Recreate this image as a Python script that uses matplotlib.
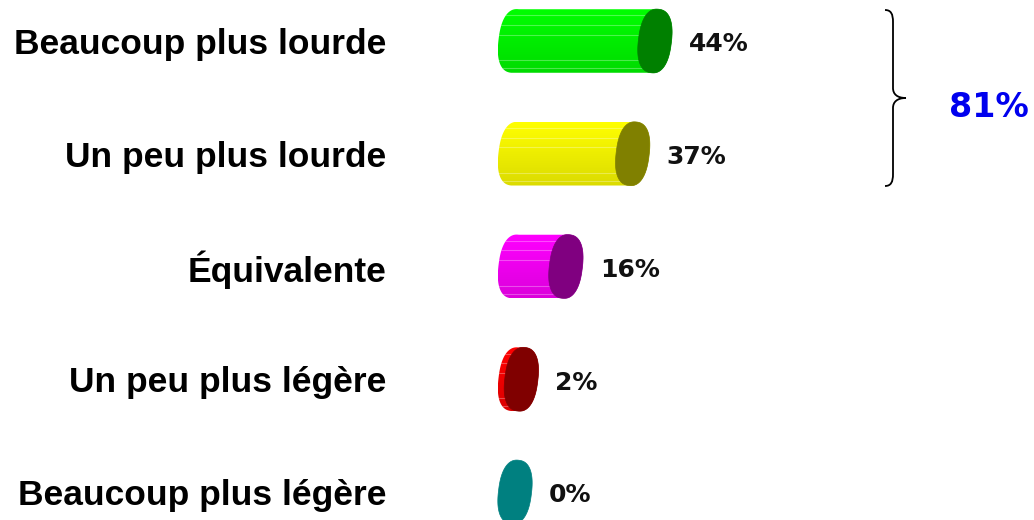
import numpy as np
import matplotlib
matplotlib.use("Agg")
import matplotlib.pyplot as plt
from matplotlib.patches import Polygon, PathPatch
from matplotlib.path import Path

categories = ["Beaucoup plus lourde", "Un peu plus lourde", "Équivalente",
              "Un peu plus légère", "Beaucoup plus légère"]
values = [44, 37, 16, 2, 0]
body_colors = ["#00ff00", "#ffff00", "#ff00ff", "#ff0000", "#008080"]
cap_colors = ["#008000", "#808000", "#800080", "#800000", "#008080"]
total_label = "81%"

W, H = 1034, 520
PX_PCT = 3.18      # pixels per percent
X0 = 515           # pixel x of value 0
ROW0 = 41          # pixel y of first row
ROW = 112.75       # pixels between rows

fig = plt.figure(figsize=(W / 100, H / 100), dpi=100)
ax = fig.add_axes([0, 0, 1, 1])
ax.set_xlim(-X0 / PX_PCT, (W - X0) / PX_PCT)
ax.set_ylim((H - ROW0) / ROW, -ROW0 / ROW)
ax.axis("off")

def px_x(p):
    return (p - X0) / PX_PCT

def px_y(p):
    return (p - ROW0) / ROW

# end cap: squarish ellipse in pixels, slightly tilted
a, b, th, n = 16.5, 32.0, np.radians(7), 2.4

def ellipse_pts(t):
    c, s = np.cos(t), np.sin(t)
    ux = a * np.sign(c) * np.abs(c) ** (2 / n)
    uy = b * np.sign(s) * np.abs(s) ** (2 / n)
    ex = ux * np.cos(th) - uy * np.sin(th)
    ey = ux * np.sin(th) + uy * np.cos(th)
    return ex / PX_PCT, ey / ROW

for i, (v, bc, cc) in enumerate(zip(values, body_colors, cap_colors)):
    y = i
    if v > 0:
        tl = np.linspace(np.pi / 2, 3 * np.pi / 2, 60)
        tr = np.linspace(-np.pi / 2, np.pi / 2, 60)
        lx, ly = ellipse_pts(tl)
        rx, ry = ellipse_pts(tr)
        xs = np.concatenate([lx, rx + v])
        ys = np.concatenate([ly, ry]) + y
        body = Polygon(np.column_stack([xs, ys]), closed=True,
                       facecolor="none", edgecolor="none")
        ax.add_patch(body)
        rgb = np.array(matplotlib.colors.to_rgb(bc))
        shade = np.linspace(1.0, 0.86, 64)[:, None] * rgb[None, :]
        img = np.repeat(shade[:, None, :], 2, axis=1)
        im = ax.imshow(img, extent=(lx.min(), v + rx.max(), y + b / ROW, y - b / ROW),
                       aspect="auto", interpolation="bilinear", zorder=2)
        im.set_clip_path(body)
        for k in (-0.8, -0.5, -0.2, 0.6, 0.85):
            ln, = ax.plot([lx.min(), v + rx.max()], [y + k * b / ROW] * 2,
                          color="white", alpha=0.3, lw=0.8, zorder=3)
            ln.set_clip_path(body)
    t = np.linspace(0, 2 * np.pi, 120)
    cx, cy = ellipse_pts(t)
    ax.add_patch(Polygon(np.column_stack([cx + v, cy + y]), closed=True,
                         facecolor=cc, edgecolor=cc, lw=0.5, zorder=4))
    ax.text(v + 34 / PX_PCT, y + 0.03, f"{v}%", ha="left", va="center",
            fontsize=18, fontweight="bold", family="DejaVu Sans", color="#111111")
    ax.text(px_x(386), y + 0.03, categories[i], ha="right", va="center",
            fontsize=25.5, fontweight="bold", family="Liberation Sans", color="black")

# curly brace grouping the first two rows
bx, tip, top, bot, mid = 893, 906, 10, 186, 98
verts = [(885, top), (891, top), (bx, top + 4), (bx, top + 12),
         (bx, mid - 10),
         (bx, mid - 4), (bx + 4, mid), (tip, mid),
         (bx + 4, mid), (bx, mid + 4), (bx, mid + 10),
         (bx, bot - 12),
         (bx, bot - 4), (891, bot), (885, bot)]
codes = [Path.MOVETO, Path.CURVE4, Path.CURVE4, Path.CURVE4,
         Path.LINETO,
         Path.CURVE4, Path.CURVE4, Path.CURVE4,
         Path.CURVE4, Path.CURVE4, Path.CURVE4,
         Path.LINETO,
         Path.CURVE4, Path.CURVE4, Path.CURVE4]
verts = [(px_x(px), px_y(py)) for px, py in verts]
ax.add_patch(PathPatch(Path(verts, codes), facecolor="none", edgecolor="black", lw=1.3))
ax.text(px_x(949), px_y(108), total_label, ha="left", va="center", fontsize=24,
        fontweight="bold", family="DejaVu Sans", color="#0000ee")

fig.savefig("out.png", dpi=100, facecolor="white")
